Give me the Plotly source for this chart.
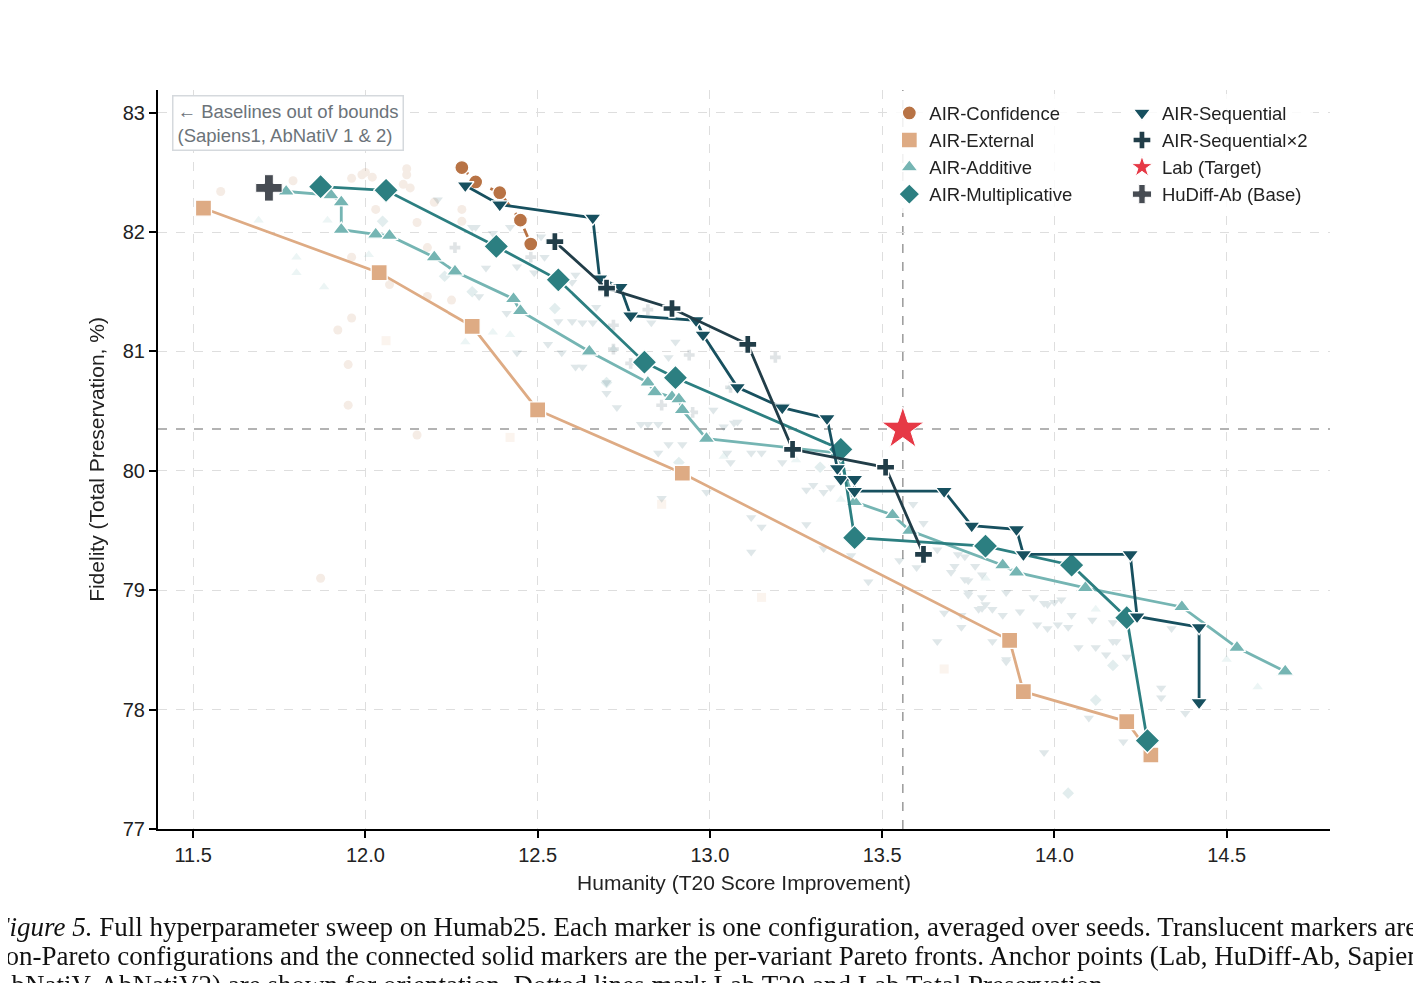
import plotly.graph_objects as go

# --- Pareto fronts ---
conf_x = [12.28, 12.32, 12.39, 12.45, 12.48]
conf_y = [82.54, 82.42, 82.33, 82.10, 81.90]

ext_x = [11.53, 12.04, 12.31, 12.50, 12.92, 13.87, 13.91, 14.21, 14.28]
ext_y = [82.20, 81.66, 81.21, 80.51, 79.98, 78.58, 78.15, 77.90, 77.62]

add_x = [11.77, 11.90, 11.93, 11.93, 12.03, 12.07, 12.20, 12.26, 12.43, 12.45, 12.65, 12.82, 12.84, 12.89,
         12.91, 12.92, 12.99, 13.37, 13.42, 13.53, 13.58, 13.85, 13.89, 14.09, 14.37, 14.53, 14.67]
add_y = [82.34, 82.31, 82.25, 82.02, 81.98, 81.97, 81.79, 81.67, 81.44, 81.34, 81.00, 80.74, 80.66, 80.62,
         80.60, 80.51, 80.27, 80.15, 79.74, 79.63, 79.50, 79.21, 79.15, 79.02, 78.86, 78.52, 78.32]

mult_x = [11.87, 12.06, 12.38, 12.56, 12.81, 12.90, 13.38, 13.42, 13.80, 14.05, 14.21, 14.27]
mult_y = [82.38, 82.35, 81.88, 81.60, 80.91, 80.78, 80.18, 79.44, 79.37, 79.21, 78.77, 77.74]

seq_x = [12.29, 12.39, 12.66, 12.68, 12.74, 12.77, 12.96, 12.98, 13.08, 13.21, 13.34, 13.37, 13.38, 13.42,
         13.42, 13.68, 13.76, 13.89, 13.91, 14.22, 14.24, 14.42, 14.42]
seq_y = [82.39, 82.23, 82.12, 81.61, 81.54, 81.30, 81.26, 81.14, 80.70, 80.53, 80.44, 80.02, 79.93, 79.93,
         79.83, 79.83, 79.54, 79.51, 79.30, 79.30, 78.78, 78.69, 78.06]

seq2_x = [12.55, 12.70, 12.89, 13.11, 13.24, 13.51, 13.62]
seq2_y = [81.92, 81.53, 81.36, 81.06, 80.18, 80.03, 79.30]

# anchors
lab_x, lab_y = 13.56, 80.35
hudiff_x, hudiff_y = 11.72, 82.37

# --- non-Pareto configurations (translucent) ---
conf_bg_x = [11.58, 11.79, 11.96, 11.99, 12.00, 12.02, 12.12, 12.12, 12.11, 12.13, 12.03, 12.15, 11.96,
             12.07, 12.18, 12.25, 11.96, 11.92, 11.95, 11.95, 12.15, 11.87, 12.28, 12.28, 12.20, 12.18]
conf_bg_y = [82.34, 82.43, 82.45, 82.48, 82.50, 82.46, 82.53, 82.48, 82.40, 82.37, 82.19, 82.08, 81.79,
             81.56, 81.46, 81.43, 81.28, 81.18, 80.89, 80.55, 80.30, 79.10, 82.19, 82.09, 82.25, 81.87]

ext_bg_x = [12.06, 12.42, 12.86, 13.15, 13.68]
ext_bg_y = [81.09, 80.28, 79.72, 78.94, 78.34]

add_bg_x = [11.69, 11.80, 11.80, 11.88, 11.89, 12.01, 12.29, 12.37, 12.42, 12.72, 13.06, 13.04, 13.25,
            13.38, 13.80, 14.12, 14.59, 14.50]
add_bg_y = [82.10, 81.79, 81.66, 81.54, 82.10, 81.81, 81.08, 81.16, 81.14, 81.02, 80.70, 80.12, 80.09,
            79.76, 79.10, 78.84, 78.19, 78.42]

mult_bg_x = [12.05, 12.23, 12.31, 12.55, 12.70, 12.91, 13.32, 14.17, 14.12, 14.04]
mult_bg_y = [82.09, 81.63, 81.50, 81.36, 80.74, 80.07, 80.03, 78.37, 78.08, 77.30]

seq_bg_x = [12.21, 12.31, 12.32, 12.37, 12.42, 12.51, 12.44, 12.49, 12.52, 12.33, 12.41, 12.56, 12.53,
            12.44, 12.57, 12.35, 12.60, 12.61, 12.67, 12.60, 12.63, 12.66, 12.83, 12.90, 12.61, 12.63,
            12.70, 12.70, 12.73, 12.88, 12.80, 12.82, 12.85, 13.04, 13.07, 13.08, 12.85, 12.88, 12.92,
            13.05, 13.06, 13.12, 13.15, 13.21, 13.01, 13.28, 13.30, 13.33, 13.35, 13.33, 13.41, 13.46,
            13.55, 13.59, 13.62, 13.60, 13.66, 13.71, 13.72, 13.74, 13.77, 13.70, 13.75, 13.79, 13.75,
            13.79, 13.68, 13.73, 13.79, 13.85, 13.86, 13.90, 13.94, 13.95, 13.98, 14.00, 14.01, 14.05,
            14.11, 13.74, 13.75, 13.80, 13.82, 13.78, 13.73, 13.82, 13.86, 13.97, 13.98, 14.02, 14.04,
            14.07, 14.12, 14.17, 14.17, 14.18, 14.15, 14.21, 14.34, 14.31, 14.31, 14.38, 14.10, 14.20,
            13.97, 12.86, 12.99, 13.12, 13.15, 13.12, 13.28, 13.66, 13.86]
seq_bg_y = [82.27, 82.04, 82.04, 81.99, 82.04, 81.96, 81.71, 81.66, 81.79, 81.46, 81.32, 81.25, 81.06,
            80.99, 80.99, 81.70, 81.58, 81.64, 81.37, 81.25, 81.24, 81.24, 81.24, 81.08, 80.87, 80.87,
            80.74, 80.65, 80.53, 80.95, 80.39, 80.39, 80.39, 80.37, 80.40, 80.41, 80.15, 80.22, 80.22,
            80.15, 80.07, 80.15, 80.15, 80.07, 80.51, 79.84, 79.88, 79.82, 79.86, 79.35, 79.29, 79.07,
            79.25, 79.72, 79.56, 79.19, 79.34, 79.20, 79.30, 79.28, 79.20, 79.15, 79.08, 79.13, 78.96,
            78.94, 78.81, 78.79, 78.85, 78.79, 78.98, 78.82, 78.94, 78.71, 78.88, 78.90, 78.71, 78.79,
            78.75, 79.09, 78.98, 78.88, 78.84, 78.84, 78.69, 78.57, 78.42, 78.89, 78.68, 78.92, 78.69,
            78.52, 78.52, 78.73, 78.57, 78.57, 78.46, 78.44, 78.68, 78.18, 78.10, 77.97, 77.93, 77.73,
            77.64, 79.77, 79.82, 79.61, 79.53, 79.32, 79.55, 78.57, 78.40]

seq2_bg_x = [12.26, 12.48, 12.82, 12.72, 12.72, 12.94, 12.86, 12.95, 13.06, 12.77, 13.19]
seq2_bg_y = [81.87, 81.79, 81.35, 81.22, 81.02, 80.97, 80.55, 80.49, 80.70, 80.90, 80.95]

caption_lines = [
    '<i>Figure 5.</i> Full hyperparameter sweep on Humab25. Each marker is one configuration, '
    'averaged over seeds. Translucent markers are',
    'non-Pareto configurations and the connected solid markers are the per-variant Pareto fronts. '
    'Anchor points (Lab, HuDiff-Ab, Sapiens1,',
    'AbNatiV, AbNatiV2) are shown for orientation. Dotted lines mark Lab T20 and Lab Total Preservation.',
]

# variant -> colour / symbol
C_CONF = '#b87345'
C_EXT = '#deab84'
C_ADD = '#75b5b3'
C_MULT = '#2c7f81'
C_SEQ = '#17505f'
C_SEQ2 = '#213d48'
C_BASE = '#474c53'
C_LAB = '#e63946'

FONT = 'Liberation Sans, Arial, sans-serif'

fig = go.Figure()

# translucent background sweeps
for bx, by, col, sym in [
    (conf_bg_x, conf_bg_y, C_CONF, 'circle'),
    (ext_bg_x, ext_bg_y, C_EXT, 'square'),
    (add_bg_x, add_bg_y, C_ADD, 'triangle-up'),
    (mult_bg_x, mult_bg_y, C_MULT, 'diamond'),
    (seq_bg_x, seq_bg_y, C_SEQ, 'triangle-down'),
    (seq2_bg_x, seq2_bg_y, C_SEQ2, 'cross'),
]:
    fig.add_trace(go.Scatter(
        x=bx, y=by, mode='markers',
        marker=dict(color=col, symbol=sym, size=9, line=dict(width=0)),
        opacity=0.14, showlegend=False, hoverinfo='skip'
    ))

# Pareto fronts: line first, then markers (legend shows marker only)
fronts = [
    ('AIR-External', ext_x, ext_y, C_EXT, 'square', 16, 'solid', 'legend', 2),
    ('AIR-Additive', add_x, add_y, C_ADD, 'triangle-up', 15, 'solid', 'legend', 3),
    ('AIR-Multiplicative', mult_x, mult_y, C_MULT, 'diamond', 19, 'solid', 'legend', 4),
    ('AIR-Confidence', conf_x, conf_y, C_CONF, 'circle', 14, 'dash', 'legend', 1),
    ('AIR-Sequential', seq_x, seq_y, C_SEQ, 'triangle-down', 15, 'solid', 'legend2', 1),
    ('AIR-Sequential\u00d72', seq2_x, seq2_y, C_SEQ2, 'cross', 15, 'solid', 'legend2', 2),
]
for name, fx, fy, col, sym, sz, dash, leg, rank in fronts:
    fig.add_trace(go.Scatter(
        x=fx, y=fy, mode='lines',
        line=dict(color=col, width=2.8, dash=dash),
        showlegend=False, hoverinfo='skip'
    ))
    fig.add_trace(go.Scatter(
        x=fx, y=fy, mode='markers', name=name,
        marker=dict(color=col, symbol=sym, size=sz, line=dict(color='white', width=1.3)),
        legend=leg, legendrank=rank
    ))

# anchors
fig.add_trace(go.Scatter(
    x=[lab_x], y=[lab_y], mode='markers', name='Lab (Target)',
    marker=dict(color=C_LAB, symbol='star', size=32, line=dict(color='white', width=1)),
    legend='legend2', legendrank=3
))
fig.add_trace(go.Scatter(
    x=[hudiff_x], y=[hudiff_y], mode='markers', name='HuDiff-Ab (Base)',
    marker=dict(color=C_BASE, symbol='cross', size=22, line=dict(color='white', width=1)),
    legend='legend2', legendrank=4
))

# Lab reference lines
fig.add_vline(x=lab_x, line=dict(color='#9a9a9a', width=1.5, dash='dash'), layer='below')
fig.add_hline(y=lab_y, line=dict(color='#9a9a9a', width=1.5, dash='dash'), layer='below')

fig.add_annotation(
    xref='paper', yref='paper', x=0.012, y=0.993, xanchor='left', yanchor='top',
    text='\u2190 Baselines out of bounds<br>(Sapiens1, AbNatiV 1 & 2)',
    showarrow=False, align='left',
    font=dict(family=FONT, size=18.5, color='#6c7379'),
    bordercolor='#d5d9dd', borderwidth=1.5, borderpad=4, bgcolor='white'
)

# figure caption, one line per annotation (runs off the page edges like the original crop)
for i, line in enumerate(caption_lines):
    fig.add_annotation(
        xref='paper', yref='paper', x=-0.1434, y=-0.1326 - 0.0392 * i,
        xanchor='left', yanchor='middle',
        text=line, showarrow=False, align='left',
        font=dict(family='Liberation Serif, Times New Roman, serif', size=27, color='#111111')
    )

axis_common = dict(
    showline=True, linecolor='black', linewidth=2, mirror=False,
    ticks='outside', ticklen=7, tickwidth=1.5, tickcolor='black',
    showgrid=True, gridcolor='#dedede', gridwidth=1, griddash='dash',
    zeroline=False, tickfont=dict(family=FONT, size=20, color='#222222'),
)

fig.update_layout(
    width=1413, height=975,
    paper_bgcolor='white', plot_bgcolor='white',
    margin=dict(l=150, r=91, t=82, b=154),
    font=dict(family=FONT, color='#222222'),
    xaxis=dict(range=[11.398, 14.80], tickvals=[11.5, 12.0, 12.5, 13.0, 13.5, 14.0, 14.5],
               tickformat='.1f',
               title=dict(text='Humanity (T20 Score Improvement)', font=dict(family=FONT, size=21),
                          standoff=10),
               **axis_common),
    yaxis=dict(range=[77, 83.19], tickvals=[77, 78, 79, 80, 81, 82, 83],
               title=dict(text='Fidelity (Total Preservation, %)', font=dict(family=FONT, size=21),
                          standoff=12),
               **axis_common),
    legend=dict(x=0.624, y=0.994, xanchor='left', yanchor='top',
                bgcolor='rgba(255,255,255,0.85)', borderwidth=0,
                font=dict(family=FONT, size=18.5, color='#222222')),
    legend2=dict(x=0.8225, y=0.994, xanchor='left', yanchor='top',
                 bgcolor='rgba(255,255,255,0.85)', borderwidth=0,
                 font=dict(family=FONT, size=18.5, color='#222222')),
)

fig.write_html('out.html')
